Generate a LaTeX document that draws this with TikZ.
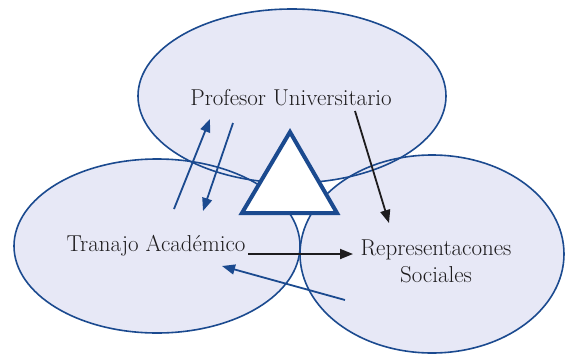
\documentclass[tikz,border=0pt]{standalone}
\usepackage{tikz}
\usetikzlibrary{arrows.meta}
\definecolor{myBlue}{RGB}{27,74,143}
\definecolor{myLila}{RGB}{231,232,246}
\definecolor{myBlack}{RGB}{30,28,30}

\begin{document}
\begin{tikzpicture}[x=1pt, y=-1pt,
  pfeil/.style={line width=1.8pt, -{Triangle[length=13pt, width=10pt]}},
  txt/.style={font=\fontsize{23}{27}\selectfont, text=myBlack, align=center}]
  \useasboundingbox (0,0) rectangle (565,354);
  % Mittelpunkte
  \coordinate (prof) at (292,96);
  \coordinate (trab) at (157,246);
  \coordinate (repr) at (432,254);
  % Flaechen
  \foreach \c/\rx/\ry in {prof/154/87, trab/143/87, repr/132/99} {
    \fill[myLila] (\c) ellipse ({\rx} and {\ry});
  }
  \foreach \c/\rx/\ry in {prof/154/87, trab/143/87, repr/132/99} {
    \draw[myBlue, line width=1.6pt] (\c) ellipse ({\rx} and {\ry});
  }
  % Dreieck
  \draw[myBlue, line width=4pt, fill=white, line join=miter]
    (290,132) coordinate (spitze) -- (337,213) -- (242,213) -- cycle;
  % Texte
  \node[txt] (tprof) at (291,98) {Profesor Universitario};
  \node[txt] (ttrab) at (156,246) {Tranajo Acad\'emico};
  \node[txt, text width=200pt] (trepr) at (436,261) {Representacones\\Sociales};
  % Pfeile
  \coordinate (a1) at (174,209); \coordinate (b1) at (210,119);
  \coordinate (a2) at (233,123); \coordinate (b2) at (203,211);
  \coordinate (a3) at (355,111); \coordinate (b3) at (389,223);
  \coordinate (a4) at (248,254); \coordinate (b4) at (353,254);
  \coordinate (a5) at (345,300); \coordinate (b5) at (222,266);
  \draw[pfeil, myBlue] (a1) -- (b1);
  \draw[pfeil, myBlue] (a2) -- (b2);
  \draw[pfeil, myBlack] (a3) -- (b3);
  \draw[pfeil, myBlack] (a4) -- (b4);
  \draw[pfeil, myBlue] (a5) -- (b5);
\end{tikzpicture}
\end{document}
